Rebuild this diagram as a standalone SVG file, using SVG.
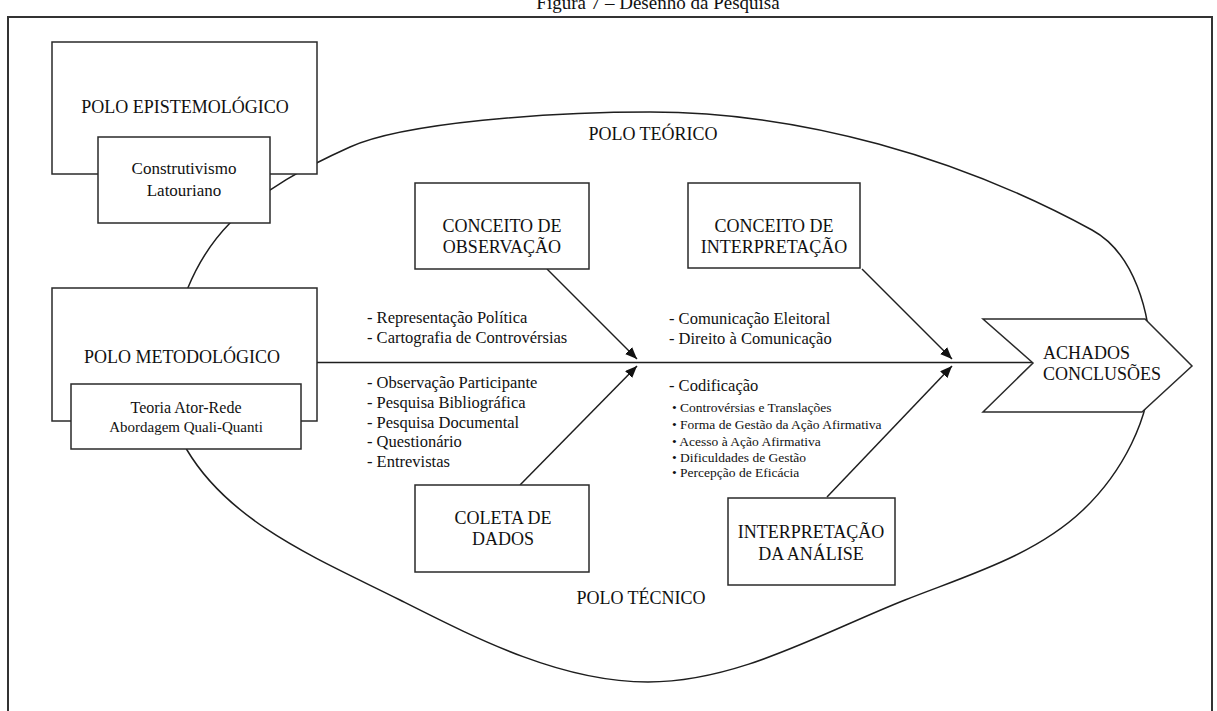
<svg xmlns="http://www.w3.org/2000/svg" width="1217" height="711" viewBox="0 0 1217 711">
<style>
text{font-family:"Liberation Serif","Times New Roman",serif;fill:#111}
.box{fill:#fff;stroke:#2a2a2a;stroke-width:1.5}
.ln{fill:none;stroke:#1e1e1e;stroke-width:1.5}
.big{font-size:18px}
.mid{font-size:16.5px}
.sm{font-size:13.5px}
.c{text-anchor:middle}
</style>
<defs>
<marker id="ah" markerUnits="userSpaceOnUse" markerWidth="14" markerHeight="12" refX="12" refY="5" orient="auto">
<path d="M0,0 L12,5 L0,10 Z" fill="#111"/>
</marker>
</defs>
<rect x="8" y="17" width="1204" height="720" fill="none" stroke="#333" stroke-width="2"/>
<text x="658" y="9" class="c" font-size="19">Figura 7 – Desenho da Pesquisa</text>

<path id="ellipse" class="ln" d="M172,365 C172,314 194.3,259.4 230,223 C263.1,189.2 307,166.4 350,147 C404.6,122.4 549.3,112 650,112 C801.8,112 960,158 1092,230 C1134,253 1151,312 1151,365 C1151,418.5 1121.7,473.1 1083,510 C1034.9,555.8 966.8,575.5 905,600 C821.4,633.1 737.9,682 648,682 C560.9,682 477.8,639.2 400,600 C322.5,560.9 231.3,524.6 187,450 C172.3,425.2 172,393.8 172,365 Z"/>
<text x="653" y="140" class="big c">POLO TEÓRICO</text>
<text x="641" y="604" class="big c">POLO TÉCNICO</text>

<g id="connectors">
<line class="ln" x1="317" y1="362.5" x2="1033" y2="362.5"/>
<line class="ln" x1="547" y1="269" x2="637" y2="359" marker-end="url(#ah)"/>
<line class="ln" x1="520" y1="485" x2="637" y2="366" marker-end="url(#ah)"/>
<line class="ln" x1="862" y1="269" x2="952" y2="359" marker-end="url(#ah)"/>
<line class="ln" x1="827" y1="497" x2="952" y2="366" marker-end="url(#ah)"/>
</g>

<g id="polo-epistemologico">
<rect class="box" x="52" y="42" width="265" height="132"/>
<text x="185" y="113" class="big c">POLO EPISTEMOLÓGICO</text>
</g>
<g id="construtivismo">
<rect class="box" x="98" y="137" width="172" height="86"/>
<text x="184" y="174" class="c" font-size="17">Construtivismo</text>
<text x="184" y="196" class="c" font-size="17">Latouriano</text>
</g>

<g id="polo-metodologico">
<rect class="box" x="52" y="288" width="265" height="133"/>
<text x="182" y="363" class="big c">POLO METODOLÓGICO</text>
</g>
<g id="teoria-ator-rede">
<rect class="box" x="71" y="384" width="230" height="65"/>
<text x="186" y="413" class="c" font-size="16">Teoria Ator-Rede</text>
<text x="186" y="432" class="c" font-size="15">Abordagem Quali-Quanti</text>
</g>

<g id="conceito-observacao">
<rect class="box" x="415" y="183" width="174" height="86"/>
<text x="502" y="232" class="big c">CONCEITO DE</text>
<text x="502" y="253" class="big c">OBSERVAÇÃO</text>
</g>
<g id="conceito-interpretacao">
<rect class="box" x="688" y="183" width="172" height="85"/>
<text x="774" y="232" class="big c">CONCEITO DE</text>
<text x="774" y="253" class="big c">INTERPRETAÇÃO</text>
</g>
<g id="coleta-dados">
<rect class="box" x="415" y="485" width="174" height="87"/>
<text x="503" y="524" class="big c">COLETA DE</text>
<text x="503" y="545" class="big c">DADOS</text>
</g>
<g id="interpretacao-analise">
<rect class="box" x="728" y="498" width="167" height="87"/>
<text x="811" y="538" class="big c">INTERPRETAÇÃO</text>
<text x="811" y="560" class="big c">DA ANÁLISE</text>
</g>

<g id="achados">
<path class="box" d="M983,319 L1145,319 L1192,366 L1142,412 L983,412 L1033,363 Z"/>
<text x="1043" y="359" class="big">ACHADOS</text>
<text x="1043" y="380" class="big">CONCLUSÕES</text>
</g>

<g id="lista-observacao">
<text x="367" y="323" class="mid">- Representação Política</text>
<text x="367" y="343" class="mid">- Cartografia de Controvérsias</text>
<text x="367" y="388" class="mid">- Observação Participante</text>
<text x="367" y="408" class="mid">- Pesquisa Bibliográfica</text>
<text x="367" y="428" class="mid">- Pesquisa Documental</text>
<text x="367" y="447" class="mid">- Questionário</text>
<text x="367" y="467" class="mid">- Entrevistas</text>
</g>
<g id="lista-interpretacao">
<text x="669" y="324" class="mid">- Comunicação Eleitoral</text>
<text x="669" y="344" class="mid">- Direito à Comunicação</text>
<text x="669" y="391" class="mid">- Codificação</text>
<text x="672" y="412" class="sm">• Controvérsias e Translações</text>
<text x="672" y="429" class="sm">• Forma de Gestão da Ação Afirmativa</text>
<text x="672" y="446" class="sm">• Acesso à Ação Afirmativa</text>
<text x="672" y="462" class="sm">• Dificuldades de Gestão</text>
<text x="672" y="477" class="sm">• Percepção de Eficácia</text>
</g>
</svg>
